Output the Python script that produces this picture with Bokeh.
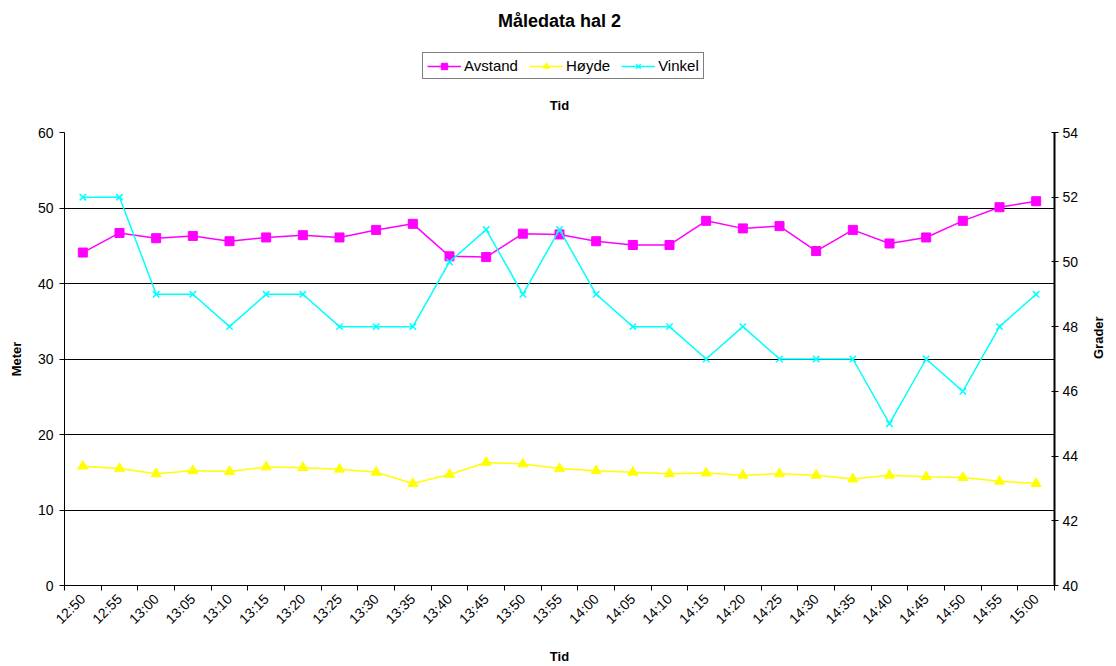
import math
from bokeh.plotting import figure
from bokeh.layouts import column
from bokeh.models import (Range1d, LinearAxis, FixedTicker, Legend, LegendItem,
                          Label, ColumnDataSource)
from bokeh.embed import file_html
from bokeh.resources import INLINE

# ---- data ----
times = ["12:50", "12:55", "13:00", "13:05", "13:10", "13:15", "13:20", "13:25",
         "13:30", "13:35", "13:40", "13:45", "13:50", "13:55", "14:00", "14:05",
         "14:10", "14:15", "14:20", "14:25", "14:30", "14:35", "14:40", "14:45",
         "14:50", "14:55", "15:00"]
avstand = [44.1, 46.7, 46.0, 46.3, 45.6, 46.1, 46.4, 46.1, 47.1, 47.9, 43.6, 43.5,
           46.6, 46.5, 45.6, 45.1, 45.1, 48.3, 47.3, 47.6, 44.3, 47.1, 45.3, 46.1,
           48.3, 50.1, 50.9]
hoyde = [15.8, 15.5, 14.8, 15.2, 15.1, 15.7, 15.6, 15.4, 15.0, 13.5, 14.7, 16.3,
         16.1, 15.5, 15.2, 15.0, 14.8, 14.9, 14.6, 14.8, 14.6, 14.1, 14.6, 14.4,
         14.3, 13.8, 13.5]
vinkel = [52, 52, 49, 49, 48, 49, 49, 48, 48, 48, 50, 51, 49, 51, 49, 48, 48, 47,
          48, 47, 47, 47, 45, 47, 46, 48, 49]
meter_ticks = [0, 10, 20, 30, 40, 50, 60]
grader_ticks = [40, 42, 44, 46, 48, 50, 52, 54]
series_names = ["Avstand", "Høyde", "Vinkel"]
chart_title = "Måledata hal 2"
x_title = "Tid"

FONT = "Liberation Sans"
MAG, YEL, CYA = "#FF00FF", "#FFFF00", "#00FFFF"
W = 1116
TOP_H = 112
MAIN_H = 554
LEFT, RIGHT = 64, 56          # frame borders (shared by both rows, frames are aligned)

n = len(times)
centers = [i + 0.5 for i in range(n)]
bounds = list(range(n + 1))
src = ColumnDataSource(dict(x=centers, avstand=avstand, hoyde=hoyde, vinkel=vinkel))

# ---------- header (title, legend, top axis title) ----------
head = figure(width=W, height=TOP_H, x_range=Range1d(LEFT, W - RIGHT),
              y_range=Range1d(0, TOP_H),
              min_border=0, min_border_left=LEFT, min_border_right=RIGHT,
              output_backend="svg", toolbar_location=None, title=None,
              x_axis_location=None, y_axis_location=None, outline_line_color=None,
              background_fill_color="white", border_fill_color="white")
head.grid.visible = False
head.extra_y_ranges = {"off": Range1d(1000, 2000)}
head.add_layout(Label(x=562, y=TOP_H - 20, text=chart_title, text_align="center",
                      text_baseline="middle", text_font=FONT, text_font_size="18px",
                      text_font_style="bold", text_color="black"))
head.add_layout(Label(x=562, y=TOP_H - 105, text=x_title, text_align="center",
                      text_baseline="middle", text_font=FONT, text_font_size="13px",
                      text_font_style="bold", text_color="black"))

# legend glyph carriers (their data lies outside the header's visible range)
d1 = head.line("x", "avstand", source=src, y_range_name="off", line_color=MAG, line_width=1.5)
e1 = head.scatter("x", "avstand", source=src, y_range_name="off", marker="square", size=9,
                  fill_color=MAG, line_color=MAG)
d2 = head.line("x", "hoyde", source=src, y_range_name="off", line_color=YEL, line_width=1.5)
e2 = head.scatter("x", "hoyde", source=src, y_range_name="off", marker="triangle", size=10,
                  fill_color=YEL, line_color=YEL)
d3 = head.line("x", "vinkel", source=src, y_range_name="off", line_color=CYA, line_width=1.5)
e3 = head.scatter("x", "vinkel", source=src, y_range_name="off", marker="x", size=9,
                  line_color=CYA, line_width=1.5)

legend = Legend(items=[LegendItem(label=series_names[0], renderers=[d1, e1]),
                       LegendItem(label=series_names[1], renderers=[d2, e2]),
                       LegendItem(label=series_names[2], renderers=[d3, e3])],
                orientation="horizontal", location=(422 - LEFT, TOP_H - 79),
                label_text_font=FONT, label_text_font_size="15px", label_text_color="black",
                border_line_color="black", border_line_width=1,
                background_fill_color="white", background_fill_alpha=1,
                glyph_width=34, glyph_height=16, label_standoff=3, spacing=11,
                padding=4, margin=0, label_height=16)
head.add_layout(legend, "center")

# ---------- main chart ----------
p = figure(width=W, height=MAIN_H,
           min_border_left=LEFT, min_border_right=RIGHT, min_border_top=20,
           min_border_bottom=78,
           x_range=Range1d(0, n), y_range=Range1d(meter_ticks[0], meter_ticks[-1]),
           output_backend="svg", toolbar_location=None, title=None,
           background_fill_color="white", border_fill_color="white",
           outline_line_color=None)
p.extra_y_ranges = {"grader": Range1d(grader_ticks[0], grader_ticks[-1])}

p.xaxis.ticker = FixedTicker(ticks=centers, minor_ticks=bounds)
p.xaxis.major_label_overrides = {c: t for c, t in zip(centers, times)}
p.xaxis.major_label_orientation = math.pi / 4
p.xaxis.major_tick_out = 0
p.xaxis.major_tick_in = 0
p.xaxis.minor_tick_out = 5
p.xaxis.minor_tick_in = 0
p.xaxis.minor_tick_line_color = "black"
p.xaxis.axis_label = x_title
p.xaxis.major_label_standoff = 6
p.xaxis.axis_label_standoff = 13

p.yaxis.ticker = FixedTicker(ticks=meter_ticks)
p.yaxis.axis_label = "Meter"
p.yaxis.major_tick_out = 5
p.yaxis.major_tick_in = 0
p.yaxis.minor_tick_line_color = None
p.yaxis.major_label_standoff = 6
p.yaxis.axis_label_standoff = 11

right = LinearAxis(y_range_name="grader", ticker=FixedTicker(ticks=grader_ticks),
                   axis_label="Grader")
right.major_tick_out = 4
right.major_tick_in = 3
right.minor_tick_line_color = None
right.major_label_standoff = 4
right.axis_label_standoff = 17
right.axis_line_color = "#555555"
right.axis_line_width = 2
if "axis_label_orientation" in right.properties():
    right.axis_label_orientation = math.pi / 2
p.add_layout(right, "right")

for ax in [p.xaxis[0], p.yaxis[0], right]:
    ax.major_label_text_font = FONT
    ax.major_label_text_font_size = "14px"
    ax.major_label_text_color = "black"
    ax.axis_label_text_font = FONT
    ax.axis_label_text_font_size = "13px"
    ax.axis_label_text_font_style = "bold"
    ax.axis_label_text_color = "black"
    ax.major_tick_line_color = "black"
p.xaxis.axis_line_color = "black"
p.yaxis.axis_line_color = "black"

p.xgrid.grid_line_color = None
p.ygrid.grid_line_color = "black"
p.ygrid.grid_line_width = 1

p.line("x", "avstand", source=src, line_color=MAG, line_width=1.5)
p.scatter("x", "avstand", source=src, marker="square", size=9,
          fill_color=MAG, line_color=MAG)
p.line("x", "hoyde", source=src, line_color=YEL, line_width=1.5)
p.scatter("x", "hoyde", source=src, marker="triangle", size=10,
          fill_color=YEL, line_color=YEL)
p.line("x", "vinkel", source=src, line_color=CYA, line_width=1.5,
       y_range_name="grader")
p.scatter("x", "vinkel", source=src, marker="x", size=9,
          line_color=CYA, line_width=1.5, y_range_name="grader")

layout = column(head, p, spacing=0)
open("out.html", "w").write(file_html(layout, INLINE))
